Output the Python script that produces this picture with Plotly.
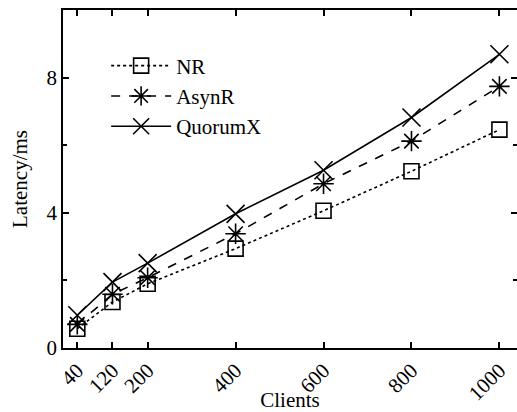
import plotly.graph_objects as go

clients = [40, 120, 200, 400, 600, 800, 1000]
nr = [0.57, 1.36, 1.90, 2.94, 4.06, 5.23, 6.46]
asynr = [0.70, 1.59, 2.08, 3.38, 4.86, 6.12, 7.74]
quorumx = [0.97, 1.95, 2.51, 3.97, 5.26, 6.82, 8.69]

x_ticks = [40, 120, 200, 400, 600, 800, 1000]
y_ticks = [0, 4, 8]
y_minor = [2, 6]

FONT = "Liberation Serif"

fig = go.Figure()
fig.add_trace(go.Scatter(
    x=clients, y=nr, name="NR", mode="lines+markers",
    line=dict(color="black", width=1.6, dash="dot"),
    marker=dict(symbol="square-open", size=15, color="black", line=dict(width=1.6)),
))
fig.add_trace(go.Scatter(
    x=clients, y=asynr, name="AsynR", mode="lines+markers",
    line=dict(color="black", width=1.6, dash="dash"),
    marker=dict(symbol="asterisk-open", size=17, color="black", line=dict(width=1.6)),
))
fig.add_trace(go.Scatter(
    x=clients, y=quorumx, name="QuorumX", mode="lines+markers",
    line=dict(color="black", width=1.6),
    marker=dict(symbol="x-thin-open", size=18, color="black", line=dict(width=1.6)),
))

fig.update_layout(
    width=517, height=412,
    margin=dict(l=63, r=0, t=10, b=64),
    paper_bgcolor="white", plot_bgcolor="white",
    font=dict(family=FONT, size=21, color="black"),
    showlegend=True,
    legend=dict(
        x=0.095, y=0.895, xanchor="left", yanchor="top",
        bgcolor="rgba(0,0,0,0)", itemwidth=60,
        font=dict(family=FONT, size=21),
        tracegroupgap=0,
    ),
)
fig.update_xaxes(
    range=[7.5, 1040], automargin=False,
    tickmode="array", tickvals=x_ticks, ticktext=[str(v) for v in x_ticks],
    tickangle=-45,
    ticks="inside", ticklen=6, tickwidth=1.5, tickcolor="black",
    showline=True, linecolor="black", linewidth=1.8, mirror="ticks",
    showgrid=False, zeroline=False,
    title=dict(text="Clients", standoff=0, font=dict(size=21)),
)
fig.update_yaxes(
    range=[0, 10], automargin=False,
    tickmode="array", tickvals=y_ticks,
    ticks="inside", ticklen=6, tickwidth=1.5, tickcolor="black",
    minor=dict(tickmode="array", tickvals=y_minor, ticks="inside", ticklen=4,
               tickwidth=1.5, tickcolor="black", showgrid=False),
    showline=True, linecolor="black", linewidth=1.8, mirror="ticks",
    showgrid=False, zeroline=False,
    title=dict(text="Latency/ms", standoff=13, font=dict(size=21)),
)

fig.write_html("out.html")
